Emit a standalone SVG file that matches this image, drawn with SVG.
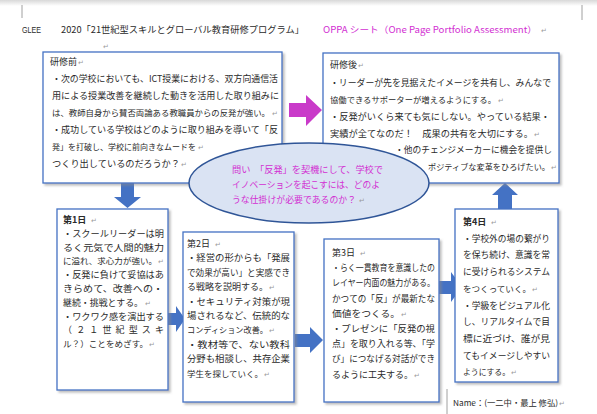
<svg xmlns="http://www.w3.org/2000/svg" width="597" height="414" viewBox="0 0 597 414">
<defs>
<style>
.t{font-family:"Noto Sans CJK JP","Liberation Sans",sans-serif;font-size:9px;fill:#2a2a2a}
.m{fill:#d22fd2}
.rm{fill:#9a9a9a;font-family:"DejaVu Sans",sans-serif;font-size:7px}
.box{fill:#fff;stroke:#4472c4;stroke-width:1.3;filter:url(#sh)}
.arr{fill:#4472c4}
.pg{stroke:#a0a0a0;stroke-width:1;fill:none}
</style>
<filter id="sh" x="-10%" y="-10%" width="125%" height="125%">
<feDropShadow dx="2" dy="2" stdDeviation="1.2" flood-color="#888" flood-opacity="0.55"/>
</filter>
<linearGradient id="band" x1="0" y1="0" x2="0" y2="1">
<stop offset="0" stop-color="#d8d8d8"/>
<stop offset="1" stop-color="#ffffff"/>
</linearGradient>
</defs>
<rect width="597" height="414" fill="#fff"/>
<rect x="0" y="0" width="597" height="6" fill="url(#band)"/>
<line class="pg" x1="22" y1="5" x2="22" y2="18"/>
<line class="pg" x1="582" y1="5" x2="582" y2="20"/>
<line class="pg" x1="447" y1="389" x2="447" y2="414"/>

<g id="title">
<text class="t" x="22" y="33" style="font-family:'Liberation Sans',sans-serif" textLength="19" lengthAdjust="spacingAndGlyphs">GLEE</text>
<text class="t" x="61" y="33" textLength="243" lengthAdjust="spacingAndGlyphs">2020「21世紀型スキルとグローバル教育研修プログラム」</text>
<text class="t m" x="323" y="33" textLength="214" lengthAdjust="spacingAndGlyphs">OPPA シート（One Page Portfolio Assessment）</text>
<text class="rm" x="541" y="33">↵</text>
<text class="rm" x="103" y="49">↵</text>
</g>

<g id="connectors">
<polygon class="arr" points="121,183 134,183 134,197 141,197 127.5,208 114,197 121,197"/>
<polygon class="arr" points="167,313 176,313 176,306 185,319 176,332 176,325 167,325"/>
<polygon class="arr" points="295,334 310,334 310,327 323,340 310,353 310,347 295,347"/>
<polygon class="arr" points="438,281 451,281 451,272 462,287 451,302 451,294 438,294"/>
<polygon class="arr" points="498,210 498,195 492,195 505,183 518,195 512,195 512,210"/>
<polygon points="289,103 306,103 306,95 322,110 306,126 306,117 289,117" fill="#c93ac9"/>
</g>

<g id="before">
<rect class="box" x="43" y="52" width="239" height="131"/>
<text class="t" x="50" y="65">研修前</text><text class="rm" x="78" y="65">↵</text>
<text class="t" x="52" y="82" textLength="226" lengthAdjust="spacingAndGlyphs">・次の学校においても、ICT授業における、双方向通信活</text>
<text class="t" x="52" y="99" textLength="227" lengthAdjust="spacingAndGlyphs">用による授業改善を継続した動きを活用した取り組みに</text>
<text class="t" x="52" y="116" style="font-size:8.4px" textLength="218" lengthAdjust="spacingAndGlyphs">は、教師自身から賛否両論ある教職員からの反発が強い。</text><text class="rm" x="272" y="116">↵</text>
<text class="t" x="52" y="133" textLength="226" lengthAdjust="spacingAndGlyphs">・成功している学校はどのように取り組みを導いて「反</text>
<text class="t" x="52" y="150" style="font-size:8px" textLength="144" lengthAdjust="spacingAndGlyphs">発」を打破し、学校に前向きなムードを</text><text class="rm" x="198" y="150">↵</text>
<text class="t" x="52" y="167" textLength="128" lengthAdjust="spacingAndGlyphs">つくり出しているのだろうか？</text><text class="rm" x="181" y="167">↵</text>
</g>

<g id="after">
<rect class="box" x="323" y="53" width="236" height="130"/>
<text class="t" x="330" y="68">研修後</text><text class="rm" x="358" y="68">↵</text>
<text class="t" x="330" y="86" textLength="221" lengthAdjust="spacingAndGlyphs">・リーダーが先を見据えたイメージを共有し、みんなで</text>
<text class="t" x="330" y="103" style="font-size:8.3px" textLength="166" lengthAdjust="spacingAndGlyphs">協働できるサポーターが増えるようにする。</text><text class="rm" x="498" y="103">↵</text>
<text class="t" x="330" y="120" textLength="220" lengthAdjust="spacingAndGlyphs">・反発がいくら来ても気にしない。やっている結果・</text>
<text class="t" x="330" y="137" textLength="203" lengthAdjust="spacingAndGlyphs">実績が全てなのだ！　成果の共有を大切にする。</text><text class="rm" x="534" y="137">↵</text>
<text class="t" x="395" y="153" textLength="157" lengthAdjust="spacingAndGlyphs">・他のチェンジメーカーに機会を提供し</text>
<text class="t" x="428" y="170" style="font-size:8.1px" textLength="122" lengthAdjust="spacingAndGlyphs">ポジティブな変革をひろげたい。</text><text class="rm" x="551" y="170">↵</text>
</g>

<g id="question">
<ellipse cx="309" cy="183" rx="120" ry="40" fill="#dae3f3" stroke="#2f5597" stroke-width="1.5"/>
<text class="t m" x="232" y="173" textLength="151" lengthAdjust="spacingAndGlyphs">問い　「反発」を契機にして、学校で</text>
<text class="t m" x="232" y="188" textLength="148" lengthAdjust="spacingAndGlyphs">イノベーションを起こすには、どのよ</text>
<text class="t m" x="232" y="203" style="font-size:8.8px" textLength="124" lengthAdjust="spacingAndGlyphs">うな仕掛けが必要であるのか？</text><text class="rm" x="359" y="203">↵</text>
</g>

<g id="day1">
<rect class="box" x="57" y="209" width="111" height="181"/>
<text class="t" x="63" y="223" font-weight="bold">第1日</text><text class="rm" x="91" y="223">↵</text>
<text class="t" x="63" y="236.8" textLength="101" lengthAdjust="spacingAndGlyphs">・スクールリーダーは明</text>
<text class="t" x="63" y="250.6" textLength="101" lengthAdjust="spacingAndGlyphs">るく元気で人間的魅力</text>
<text class="t" x="63" y="264.4" style="font-size:8.5px" textLength="94" lengthAdjust="spacingAndGlyphs">に溢れ、求心力が強い。</text><text class="rm" x="158" y="264.4">↵</text>
<text class="t" x="63" y="278.2" textLength="101" lengthAdjust="spacingAndGlyphs">・反発に負けて妥協はあ</text>
<text class="t" x="63" y="292" textLength="100" lengthAdjust="spacingAndGlyphs">きらめて、改善への・</text>
<text class="t" x="63" y="305.8" style="font-size:8.8px" textLength="80" lengthAdjust="spacingAndGlyphs">継続・挑戦とする。</text><text class="rm" x="145" y="305.8">↵</text>
<text class="t" x="63" y="319.6" textLength="101" lengthAdjust="spacingAndGlyphs">・ワクワク感を演出する</text>
<text class="t" x="63" y="333.4" textLength="101" lengthAdjust="spacing">（２１世紀型スキ</text>
<text class="t" x="63" y="347.2" style="font-size:8.5px" textLength="85" lengthAdjust="spacingAndGlyphs">ル？）ことをめざす。</text><text class="rm" x="149" y="347.2">↵</text>
</g>

<g id="day2">
<rect class="box" x="183" y="232" width="111" height="170"/>
<text class="t" x="187" y="247">第2日</text><text class="rm" x="215" y="247">↵</text>
<text class="t" x="187" y="261.4" textLength="103" lengthAdjust="spacingAndGlyphs">・経営の形からも「発展</text>
<text class="t" x="187" y="275.8" textLength="103" lengthAdjust="spacingAndGlyphs">で効果が高い」と実感でき</text>
<text class="t" x="187" y="290.2" textLength="81" lengthAdjust="spacingAndGlyphs">る戦略を説明する。</text><text class="rm" x="269" y="290.2">↵</text>
<text class="t" x="187" y="304.6" textLength="103" lengthAdjust="spacingAndGlyphs">・セキュリティ対策が現</text>
<text class="t" x="187" y="319" textLength="103" lengthAdjust="spacingAndGlyphs">場されるなど、伝統的な</text>
<text class="t" x="187" y="333.4" style="font-size:8.1px" textLength="81" lengthAdjust="spacingAndGlyphs">コンディション改善。</text><text class="rm" x="269" y="333.4">↵</text>
<text class="t" x="187" y="347.8" textLength="103" lengthAdjust="spacingAndGlyphs">・教材等で、ない教科</text>
<text class="t" x="187" y="362.2" textLength="103" lengthAdjust="spacingAndGlyphs">分野も相談し、共存企業</text>
<text class="t" x="187" y="376.6" style="font-size:8.4px" textLength="76" lengthAdjust="spacingAndGlyphs">学生を探していく。</text><text class="rm" x="264" y="376.6">↵</text>
</g>

<g id="day3">
<rect class="box" x="324" y="239" width="115" height="163"/>
<text class="t" x="332" y="256">第3日</text><text class="rm" x="360" y="256">↵</text>
<text class="t" x="332" y="271.2" textLength="103" lengthAdjust="spacingAndGlyphs">・らく一貫教育を意識したの</text>
<text class="t" x="332" y="286.4" textLength="103" lengthAdjust="spacingAndGlyphs">レイヤー内面の魅力がある。</text>
<text class="t" x="332" y="301.6" textLength="103" lengthAdjust="spacingAndGlyphs">かつての「反」が最新たな</text>
<text class="t" x="332" y="316.8" textLength="68" lengthAdjust="spacingAndGlyphs">価値をつくる。</text><text class="rm" x="401" y="316.8">↵</text>
<text class="t" x="332" y="332" textLength="103" lengthAdjust="spacingAndGlyphs">・プレゼンに「反発の視</text>
<text class="t" x="332" y="347.2" textLength="103" lengthAdjust="spacingAndGlyphs">点」を取り入れる等、「学</text>
<text class="t" x="332" y="362.4" textLength="103" lengthAdjust="spacingAndGlyphs">び」につなげる対話ができ</text>
<text class="t" x="332" y="377.6" textLength="81" lengthAdjust="spacingAndGlyphs">るように工夫する。</text><text class="rm" x="414" y="377.6">↵</text>
</g>

<g id="day4">
<rect class="box" x="455" y="209" width="103" height="173"/>
<text class="t" x="463" y="225" font-weight="bold">第4日</text><text class="rm" x="491" y="225">↵</text>
<text class="t" x="463" y="241.7" textLength="87" lengthAdjust="spacingAndGlyphs">・学校外の場の繋がり</text>
<text class="t" x="463" y="258.4" textLength="87" lengthAdjust="spacingAndGlyphs">を保ち続け、意識を常</text>
<text class="t" x="463" y="275.1" textLength="87" lengthAdjust="spacingAndGlyphs">に受けられるシステム</text>
<text class="t" x="463" y="291.8" style="font-size:8.5px" textLength="68" lengthAdjust="spacingAndGlyphs">をつくっていく。</text><text class="rm" x="532" y="291.8">↵</text>
<text class="t" x="463" y="308.5" textLength="87" lengthAdjust="spacingAndGlyphs">・学級をビジュアル化</text>
<text class="t" x="463" y="325.2" textLength="87" lengthAdjust="spacingAndGlyphs">し、リアルタイムで目</text>
<text class="t" x="463" y="341.9" textLength="87" lengthAdjust="spacingAndGlyphs">標に近づけ、誰が見</text>
<text class="t" x="463" y="358.6" textLength="87" lengthAdjust="spacingAndGlyphs">てもイメージしやすい</text>
<text class="t" x="463" y="375.3" style="font-size:8px" textLength="47" lengthAdjust="spacingAndGlyphs">ようにする。</text><text class="rm" x="511" y="375.3">↵</text>
</g>

<g id="name">
<text class="t" x="453" y="406" style="font-size:8.2px" textLength="105" lengthAdjust="spacingAndGlyphs">Name：(一二中・最上 修弘)</text><text class="rm" x="559" y="406">↵</text>
</g>
</svg>
